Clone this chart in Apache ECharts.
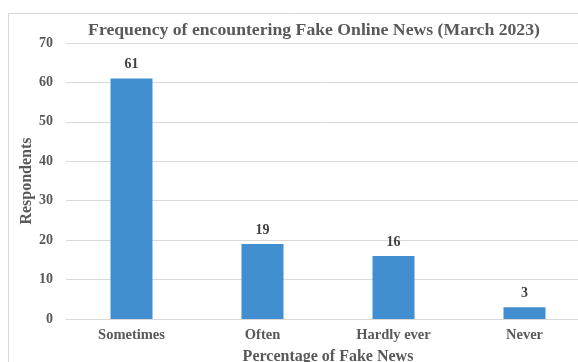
<!DOCTYPE html>
<html>
<head>
<meta charset="utf-8">
<script src="https://cdn.jsdelivr.net/npm/echarts@6/dist/echarts.min.js"></script>
<style>
  html, body { margin: 0; padding: 0; background: #fff; }
  #chart { width: 578px; height: 362px; }
</style>
</head>
<body>
<div id="chart"></div>
<script>
// Survey responses: how often respondents encounter fake online news
const categories = ['Sometimes', 'Often', 'Hardly ever', 'Never'];
const respondents = [61, 19, 16, 3];
const yTicks = { min: 0, max: 70, interval: 10 };

const serif = '"Liberation Serif", "Times New Roman", serif';
const textGrey = '#595959';

const chart = echarts.init(document.getElementById('chart'));
chart.setOption({
  animation: false,
  backgroundColor: '#fff',
  title: {
    text: 'Frequency of encountering Fake Online News (March 2023)',
    left: 309,
    textAlign: 'center',
    top: 16,
    textStyle: { fontFamily: serif, fontWeight: 'bold', fontSize: 17.7, color: textGrey }
  },
  graphic: [{
    type: 'rect',
    shape: { x: 8.5, y: 13.5, width: 600, height: 400 },
    style: { fill: 'none', stroke: '#d9d9d9', lineWidth: 1 },
    silent: true
  }],
  grid: {
    left: 66, top: 43, width: 524, height: 276,
    containLabel: false,
    outerBoundsMode: 'none'
  },
  xAxis: {
    type: 'category',
    data: categories,
    name: 'Percentage of Fake News',
    nameLocation: 'middle',
    nameGap: 30,
    nameTextStyle: { fontFamily: serif, fontWeight: 'bold', fontSize: 16, color: textGrey, align: 'center' },
    axisTick: { show: false },
    axisLine: { lineStyle: { color: '#d9d9d9', width: 1 } },
    axisLabel: { fontFamily: serif, fontWeight: 'bold', fontSize: 14.5, color: textGrey, margin: 9 }
  },
  yAxis: {
    type: 'value',
    min: yTicks.min,
    max: yTicks.max,
    interval: yTicks.interval,
    name: 'Respondents',
    nameLocation: 'middle',
    nameGap: 31,
    nameMoveOverlap: false,
    nameTextStyle: { fontFamily: serif, fontWeight: 'bold', fontSize: 16, color: textGrey },
    axisLine: { show: false },
    axisTick: { show: false },
    axisLabel: { fontFamily: serif, fontWeight: 'bold', fontSize: 14, color: textGrey, margin: 13 },
    splitLine: { lineStyle: { color: '#d9d9d9', width: 1 } }
  },
  series: [{
    type: 'bar',
    data: respondents,
    barWidth: 42,
    itemStyle: { color: '#418fd1' },
    label: {
      show: true,
      position: 'top',
      distance: 7,
      fontFamily: serif,
      fontWeight: 'bold',
      fontSize: 14,
      color: '#404040'
    }
  }]
});
</script>
</body>
</html>
